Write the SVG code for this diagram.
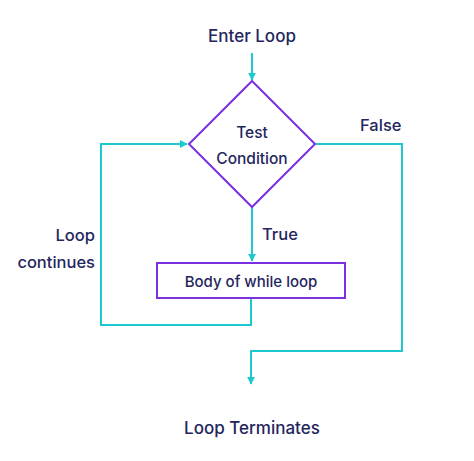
<svg xmlns="http://www.w3.org/2000/svg" width="474" height="461" viewBox="0 0 474 461">
<defs>
<style>
.t{font-family:Inter,"Noto Sans","Liberation Sans",sans-serif;fill:#25265e;font-weight:500}
.c{fill:none;stroke:#1ec8cf;stroke-width:2}
.n{fill:#fff;stroke:#7b2fe0;stroke-width:2}
</style>
<marker id="ah" viewBox="0 0 10 10" refX="9" refY="5" markerWidth="8" markerHeight="8" markerUnits="userSpaceOnUse" orient="auto">
<path d="M0,0 L10,5 L0,10 z" fill="#1ec8cf"/>
</marker>
</defs>
<rect width="474" height="461" fill="#fff"/>
<g id="connectors">
<path class="c" d="M252,53 V80" marker-end="url(#ah)"/>
<path class="c" d="M252,207 V261" marker-end="url(#ah)"/>
<path class="c" d="M251,298 V325 H101 V144 H187" marker-end="url(#ah)"/>
<path class="c" d="M315,144 H402 V351 H251 V384" marker-end="url(#ah)"/>
</g>
<g id="enter"><text class="t" x="252" y="42" font-size="17" text-anchor="middle">Enter Loop</text></g>
<g id="condition">
<polygon class="n" points="252,81 315,144 252,207 189,144"/>
<text class="t" x="252" y="138" font-size="15.5" text-anchor="middle">Test</text>
<text class="t" x="252" y="164" font-size="15.5" text-anchor="middle">Condition</text>
</g>
<g id="body">
<rect class="n" x="157" y="263" width="188" height="35"/>
<text class="t" x="251" y="287" font-size="15" text-anchor="middle">Body of while loop</text>
</g>
<g id="labels">
<text class="t" x="262" y="240" font-size="16.5">True</text>
<text class="t" x="360" y="131" font-size="16.5">False</text>
<text class="t" x="95" y="241" font-size="16.5" text-anchor="end">Loop</text>
<text class="t" x="95" y="268" font-size="16.5" text-anchor="end">continues</text>
</g>
<g id="terminate"><text class="t" x="252" y="434" font-size="17" text-anchor="middle">Loop Terminates</text></g>
</svg>
